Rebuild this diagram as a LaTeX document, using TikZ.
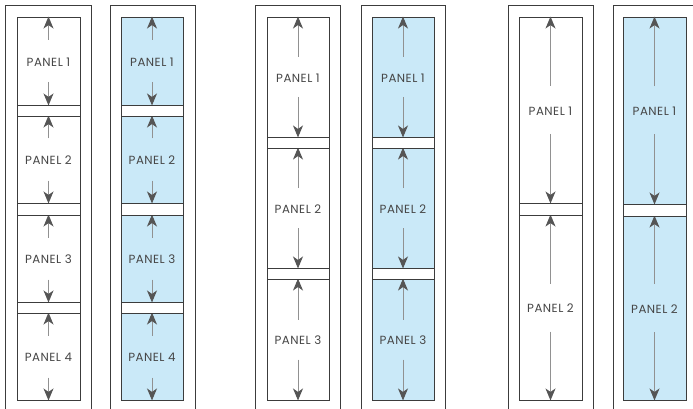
\documentclass[tikz,border=0pt]{standalone}
\usepackage{fontspec}
\setmainfont{Poppins}
\newfontfamily\labfont[LetterSpace=4]{Poppins}
\usetikzlibrary{arrows.meta,calc}
\definecolor{paneblue}{RGB}{202,233,248}
\definecolor{edgecol}{RGB}{60,60,60}
\definecolor{arrline}{RGB}{145,145,145}
\definecolor{arrhead}{RGB}{85,85,85}
\definecolor{txtcol}{RGB}{70,70,70}
\tikzset{
  framebox/.style={draw=edgecol,line width=0.9pt,fill=none,inner sep=0pt},
  panelbox/.style={draw=edgecol,line width=0.9pt,inner sep=0pt},
  bluefill/.style={fill=paneblue},
  whitefill/.style={fill=white},
  divbox/.style={draw=edgecol,line width=0.9pt,fill=white,inner sep=0pt},
  lab/.style={text=txtcol,font=\labfont\fontsize{11.8}{13}\selectfont,inner sep=0pt},
  arr/.style={draw=arrline,line width=1pt,-{Stealth[length=12pt,width=10pt,inset=3.5pt,color=arrhead]}}
}
% #1 name, #2 L, #3 R, #4 T, #5 B, #6 fill style, #7 number, #8 gap
\newcommand{\mkpanel}[8]{%
  \node[panelbox,#6,minimum width={#3-#2},minimum height={#5-#4}] (#1) at ({(#2+#3)/2},{(#4+#5)/2}) {};
  \node[lab] (#1t) at ($(#1.center)+(0,1)$) {PANEL #7};
  \coordinate (#1u) at ($(#1.center)+(0,-#8)$);
  \coordinate (#1d) at ($(#1.center)+(0,#8)$);
  \draw[arr] (#1u) -- (#1.north);
  \draw[arr] (#1d) -- (#1.south);
}
% #1 name, #2 L, #3 R, #4 T, #5 B
\newcommand{\mkdivider}[5]{%
  \node[divbox,minimum width={#3-#2},minimum height={#5-#4}] (#1) at ({(#2+#3)/2},{(#4+#5)/2}) {};
}
% #1 name, #2 L, #3 R
\newcommand{\mkframe}[3]{%
  \node[framebox,minimum width={#3-#2},minimum height=420] (#1) at ({(#2+#3)/2},215) {};
}
\begin{document}
\begin{tikzpicture}[x=1pt,y=-1pt]
\useasboundingbox (0,0) rectangle (693,409);
\clip (0,0) rectangle (693,409);
\fill[white] (0,0) rectangle (693,409);
% frames
\mkframe{fA}{5}{91}
\mkframe{fB}{110}{195}
\mkframe{fC}{255}{340}
\mkframe{fD}{361}{445}
\mkframe{fE}{508}{593}
\mkframe{fF}{613}{697}
% column A (white, 4 panels)
\mkpanel{a1}{17}{80}{17}{105}{whitefill}{1}{21}
\mkpanel{a2}{17}{80}{116}{203}{whitefill}{2}{21}
\mkpanel{a3}{17}{80}{215}{302}{whitefill}{3}{21}
\mkpanel{a4}{17}{80}{313}{400}{whitefill}{4}{21}
\mkdivider{ad1}{17}{80}{105}{116}
\mkdivider{ad2}{17}{80}{203}{215}
\mkdivider{ad3}{17}{80}{302}{313}
% column B (blue, 4 panels)
\mkpanel{b1}{121}{183}{17}{105}{bluefill}{1}{21}
\mkpanel{b2}{121}{183}{116}{203}{bluefill}{2}{21}
\mkpanel{b3}{121}{183}{215}{302}{bluefill}{3}{21}
\mkpanel{b4}{121}{183}{313}{400}{bluefill}{4}{21}
\mkdivider{bd1}{121}{183}{105}{116}
\mkdivider{bd2}{121}{183}{203}{215}
\mkdivider{bd3}{121}{183}{302}{313}
% column C (white, 3 panels)
\mkpanel{c1}{267}{329}{17}{137}{whitefill}{1}{20}
\mkpanel{c2}{267}{329}{148}{268}{whitefill}{2}{20}
\mkpanel{c3}{267}{329}{279}{400}{whitefill}{3}{20}
\mkdivider{cd1}{267}{329}{137}{148}
\mkdivider{cd2}{267}{329}{268}{279}
% column D (blue, 3 panels)
\mkpanel{d1}{372}{434}{17}{137}{bluefill}{1}{20}
\mkpanel{d2}{372}{434}{148}{268}{bluefill}{2}{20}
\mkpanel{d3}{372}{434}{279}{400}{bluefill}{3}{20}
\mkdivider{dd1}{372}{434}{137}{148}
\mkdivider{dd2}{372}{434}{268}{279}
% column E (white, 2 panels)
\mkpanel{e1}{519}{582}{17}{203}{whitefill}{1}{24}
\mkpanel{e2}{519}{582}{215}{400}{whitefill}{2}{24}
\mkdivider{ed1}{519}{582}{203}{215}
% column F (blue, 2 panels)
\mkpanel{f1}{623}{686}{17}{204}{bluefill}{1}{24}
\mkpanel{f2}{623}{686}{216}{400}{bluefill}{2}{24}
\mkdivider{fd1}{623}{686}{204}{216}
\end{tikzpicture}
\end{document}
